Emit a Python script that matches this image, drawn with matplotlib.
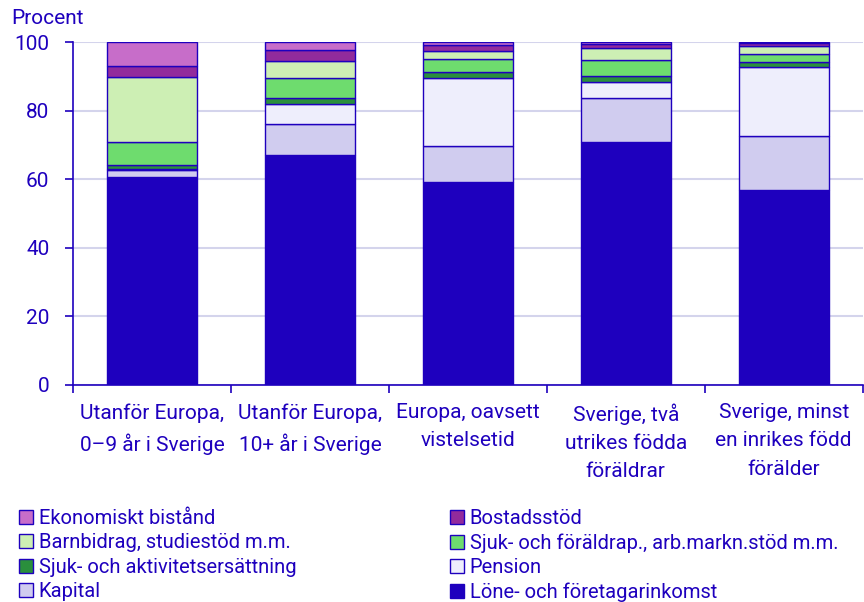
import matplotlib.pyplot as plt
from matplotlib.patches import Patch

plt.rcParams['font.family'] = ['Roboto', 'DejaVu Sans']

categories = ['Utanför Europa,\n0–9 år i Sverige', 'Utanför Europa,\n10+ år i Sverige',
              'Europa, oavsett\nvistelsetid', 'Sverige, två\nutrikes födda\nföräldrar',
              'Sverige, minst\nen inrikes född\nförälder']

# bottom to top
lone = [60.7, 67.1, 59.3, 70.9, 57.0]
kapital = [1.9, 8.9, 10.4, 12.7, 15.6]
pension = [0.5, 5.9, 19.7, 4.8, 20.2]
sjuk_akt = [1.0, 1.7, 1.8, 1.7, 1.5]
sjuk_for = [6.8, 5.8, 4.0, 4.7, 2.2]
barnbidrag = [19.0, 5.2, 2.3, 3.5, 2.3]
bostad = [3.1, 3.1, 1.6, 1.2, 0.9]
ek_bistand = [7.0, 2.3, 0.9, 0.5, 0.3]

series = [
    ('Löne- och företagarinkomst', lone, '#1E00BE'),
    ('Kapital', kapital, '#D0CCEF'),
    ('Pension', pension, '#EEEEFC'),
    ('Sjuk- och aktivitetsersättning', sjuk_akt, '#2A8F3C'),
    ('Sjuk- och föräldrap., arb.markn.stöd m.m.', sjuk_for, '#6EDC6E'),
    ('Barnbidrag, studiestöd m.m.', barnbidrag, '#CDEFB4'),
    ('Bostadsstöd', bostad, '#922B9C'),
    ('Ekonomiskt bistånd', ek_bistand, '#C76DC9'),
]

txt = '#1E00BE'
fig = plt.figure(figsize=(8.64, 6.02), dpi=100)
ax = fig.add_axes([0.0845, 0.3605, 0.914, 0.5695])

x = list(range(len(categories)))
bottom = [0.0] * len(categories)
handles = {}
for name, vals, col in series:
    ax.bar(x, vals, bottom=bottom, width=0.57, color=col, edgecolor=txt, linewidth=1.0, zorder=3)
    bottom = [b + v for b, v in zip(bottom, vals)]
    handles[name] = Patch(facecolor=col, edgecolor=txt, linewidth=1.0)

ax.set_xlim(-0.5, len(categories) - 0.5)
ax.set_ylim(0, 100)
ax.set_yticks(range(0, 101, 20))
ax.yaxis.grid(True, color='#D4D4EC', linewidth=1.5, zorder=0)
ax.set_xticks(x)
ax.set_xticklabels(categories, fontsize=15, color=txt, linespacing=1.62)
ax.set_xticks([i - 0.5 for i in range(len(categories) + 1)], minor=True)
ax.tick_params(axis='x', which='major', length=0, pad=13)
ax.tick_params(axis='x', which='minor', length=6, color=txt, width=1.2)
ax.tick_params(axis='y', length=6, color=txt, width=1.2, labelsize=15, labelcolor=txt, pad=11)
for s in ['top', 'right']:
    ax.spines[s].set_visible(False)
for s in ['left', 'bottom']:
    ax.spines[s].set_color(txt)
    ax.spines[s].set_linewidth(1.2)

fig.text(0.013, 0.985, 'Procent', fontsize=15, color=txt, va='top')

order = ['Ekonomiskt bistånd', 'Barnbidrag, studiestöd m.m.', 'Sjuk- och aktivitetsersättning', 'Kapital',
         'Bostadsstöd', 'Sjuk- och föräldrap., arb.markn.stöd m.m.', 'Pension', 'Löne- och företagarinkomst']
leg = fig.legend([handles[n] for n in order], order, ncol=2, loc='lower left',
                 bbox_to_anchor=(0.003, -0.027), frameon=False, fontsize=14.5,
                 handlelength=0.7, handleheight=0.7, handletextpad=0.3,
                 columnspacing=7.6, labelspacing=0.27, borderpad=0.3)
for t in leg.get_texts():
    t.set_color(txt)

fig.savefig('out.png', dpi=100)
